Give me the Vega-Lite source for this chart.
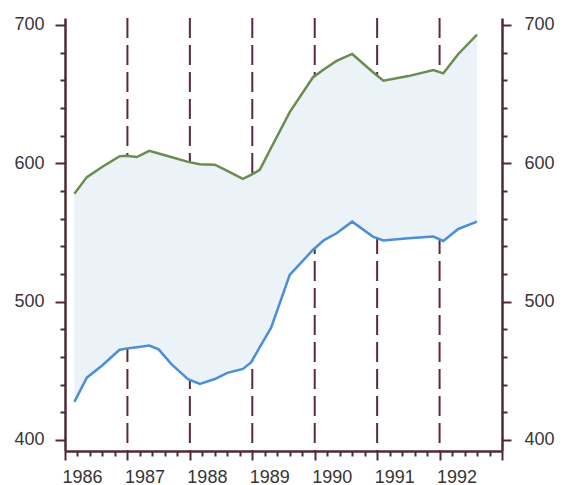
{
  "$schema": "https://vega.github.io/schema/vega-lite/v6.json",
  "width": 437,
  "height": 433,
  "autosize": {"type": "none"},
  "padding": {"left": 65, "top": 18, "right": 62, "bottom": 34},
  "background": "white",
  "config": {
    "view": {"stroke": null},
    "axis": {
      "grid": false,
      "domainColor": "#4e2a33",
      "domainWidth": 2.5,
      "tickColor": "#4e2a33",
      "tickWidth": 2,
      "labelFont": "Liberation Sans",
      "labelFontSize": 18,
      "labelColor": "#3a3436",
      "labelOverlap": false,
      "labelFlush": false,
      "labelBound": false,
      "title": null
    }
  },
  "datasets": {
    "series": [
      {"year": 1986.15, "green": 578, "blue": 427.5},
      {"year": 1986.35, "green": 590, "blue": 445},
      {"year": 1986.6, "green": 597.5, "blue": 454},
      {"year": 1986.87, "green": 605, "blue": 465},
      {"year": 1986.97, "green": 605.5, "blue": 466},
      {"year": 1987.15, "green": 604.5, "blue": 467},
      {"year": 1987.35, "green": 609, "blue": 468.2},
      {"year": 1987.5, "green": 607, "blue": 465.5},
      {"year": 1987.7, "green": 604.5, "blue": 455},
      {"year": 1987.97, "green": 601, "blue": 444},
      {"year": 1988.16, "green": 599.3, "blue": 440.5},
      {"year": 1988.4, "green": 599, "blue": 444},
      {"year": 1988.6, "green": 594.5, "blue": 448.5},
      {"year": 1988.85, "green": 588.7, "blue": 451.3},
      {"year": 1988.98, "green": 591.6, "blue": 456},
      {"year": 1989.12, "green": 595.2, "blue": 467},
      {"year": 1989.3, "green": 611, "blue": 481},
      {"year": 1989.6, "green": 637, "blue": 519.3},
      {"year": 1989.97, "green": 662, "blue": 537.3},
      {"year": 1990.15, "green": 668, "blue": 544.5},
      {"year": 1990.35, "green": 674, "blue": 549.4},
      {"year": 1990.6, "green": 679, "blue": 557.8},
      {"year": 1990.93, "green": 666, "blue": 547},
      {"year": 1991.1, "green": 659.7, "blue": 544.2},
      {"year": 1991.5, "green": 663, "blue": 545.8},
      {"year": 1991.9, "green": 667.3, "blue": 547},
      {"year": 1992.06, "green": 665, "blue": 543.8},
      {"year": 1992.3, "green": 679, "blue": 552.5},
      {"year": 1992.6, "green": 693, "blue": 557.8}
    ],
    "bounds": [
      {"year": 1987}, {"year": 1988}, {"year": 1989},
      {"year": 1990}, {"year": 1991}, {"year": 1992}
    ]
  },
  "encoding": {
    "x": {
      "field": "year", "type": "quantitative",
      "scale": {"domain": [1986, 1993], "nice": false, "zero": false},
      "axis": {
        "orient": "bottom",
        "values": [1986, 1986.2, 1986.4, 1986.6, 1986.8, 1987, 1987.2, 1987.4, 1987.6, 1987.8, 1988, 1988.2, 1988.4, 1988.6, 1988.8, 1989, 1989.2, 1989.4, 1989.6, 1989.8, 1990, 1990.2, 1990.4, 1990.6, 1990.8, 1991, 1991.2, 1991.4, 1991.6, 1991.8, 1992, 1992.2, 1992.4, 1992.6, 1992.8, 1993],
        "labelExpr": "abs(datum.value - round(datum.value)) < 0.01 && datum.value < 1992.5 ? format(round(datum.value), 'd') : ''",
        "labelAlign": "left",
        "labelBaseline": "top",
        "labelPadding": 8,
        "labelOffset": -3,
        "labelOverlap": false,
        "labelFlush": false,
        "tickSize": {"condition": {"test": "abs(datum.value - round(datum.value)) < 0.01", "value": 9}, "value": 5}
      }
    }
  },
  "layer": [
    {
      "data": {"name": "bounds"},
      "mark": {"type": "rule", "color": "#5a2a35", "strokeWidth": 2, "strokeDash": [20, 7]}
    },
    {
      "layer": [
        {
          "data": {"name": "series"},
          "mark": {"type": "area", "color": "#ebf2f8", "opacity": 1},
          "encoding": {
            "y": {
              "field": "blue", "type": "quantitative",
              "scale": {"domain": [392, 705], "nice": false, "zero": false},
              "axis": {
                "orient": "left",
                "values": [400, 420, 440, 460, 480, 500, 520, 540, 560, 580, 600, 620, 640, 660, 680, 700],
                "labelExpr": "datum.value % 100 === 0 ? datum.label : ''",
                "labelPadding": 11,
                "labelOverlap": false,
                "tickSize": {"condition": {"test": "datum.value % 100 === 0", "value": 10}, "value": 5}
              }
            },
            "y2": {"field": "green"}
          }
        },
        {
          "data": {"name": "series"},
          "mark": {"type": "line", "color": "#6b8c50", "strokeWidth": 2.5},
          "encoding": {
            "y": {
              "field": "green", "type": "quantitative",
              "scale": {"domain": [392, 705], "nice": false, "zero": false},
              "axis": {
                "orient": "left",
                "values": [400, 420, 440, 460, 480, 500, 520, 540, 560, 580, 600, 620, 640, 660, 680, 700],
                "labelExpr": "datum.value % 100 === 0 ? datum.label : ''",
                "labelPadding": 11,
                "labelOverlap": false,
                "tickSize": {"condition": {"test": "datum.value % 100 === 0", "value": 10}, "value": 5}
              }
            }
          }
        },
        {
          "data": {"name": "series"},
          "mark": {"type": "line", "color": "#4a8fd8", "strokeWidth": 2.5},
          "encoding": {
            "y": {
              "field": "blue", "type": "quantitative",
              "scale": {"domain": [392, 705], "nice": false, "zero": false},
              "axis": {
                "orient": "left",
                "values": [400, 420, 440, 460, 480, 500, 520, 540, 560, 580, 600, 620, 640, 660, 680, 700],
                "labelExpr": "datum.value % 100 === 0 ? datum.label : ''",
                "labelPadding": 11,
                "labelOverlap": false,
                "tickSize": {"condition": {"test": "datum.value % 100 === 0", "value": 10}, "value": 5}
              }
            }
          }
        }
      ]
    },
    {
      "data": {"name": "series"},
      "mark": {"type": "line", "opacity": 0},
      "encoding": {
        "y": {
          "field": "blue", "type": "quantitative",
          "scale": {"domain": [392, 705], "nice": false, "zero": false},
          "axis": {
            "orient": "right",
            "values": [400, 420, 440, 460, 480, 500, 520, 540, 560, 580, 600, 620, 640, 660, 680, 700],
            "labelExpr": "datum.value % 100 === 0 ? datum.label : ''",
            "labelPadding": 13,
            "labelOverlap": false,
            "tickSize": {"condition": {"test": "datum.value % 100 === 0", "value": 9}, "value": 5}
          }
        }
      }
    }
  ],
  "resolve": {"scale": {"y": "independent"}, "axis": {"y": "independent"}}
}
